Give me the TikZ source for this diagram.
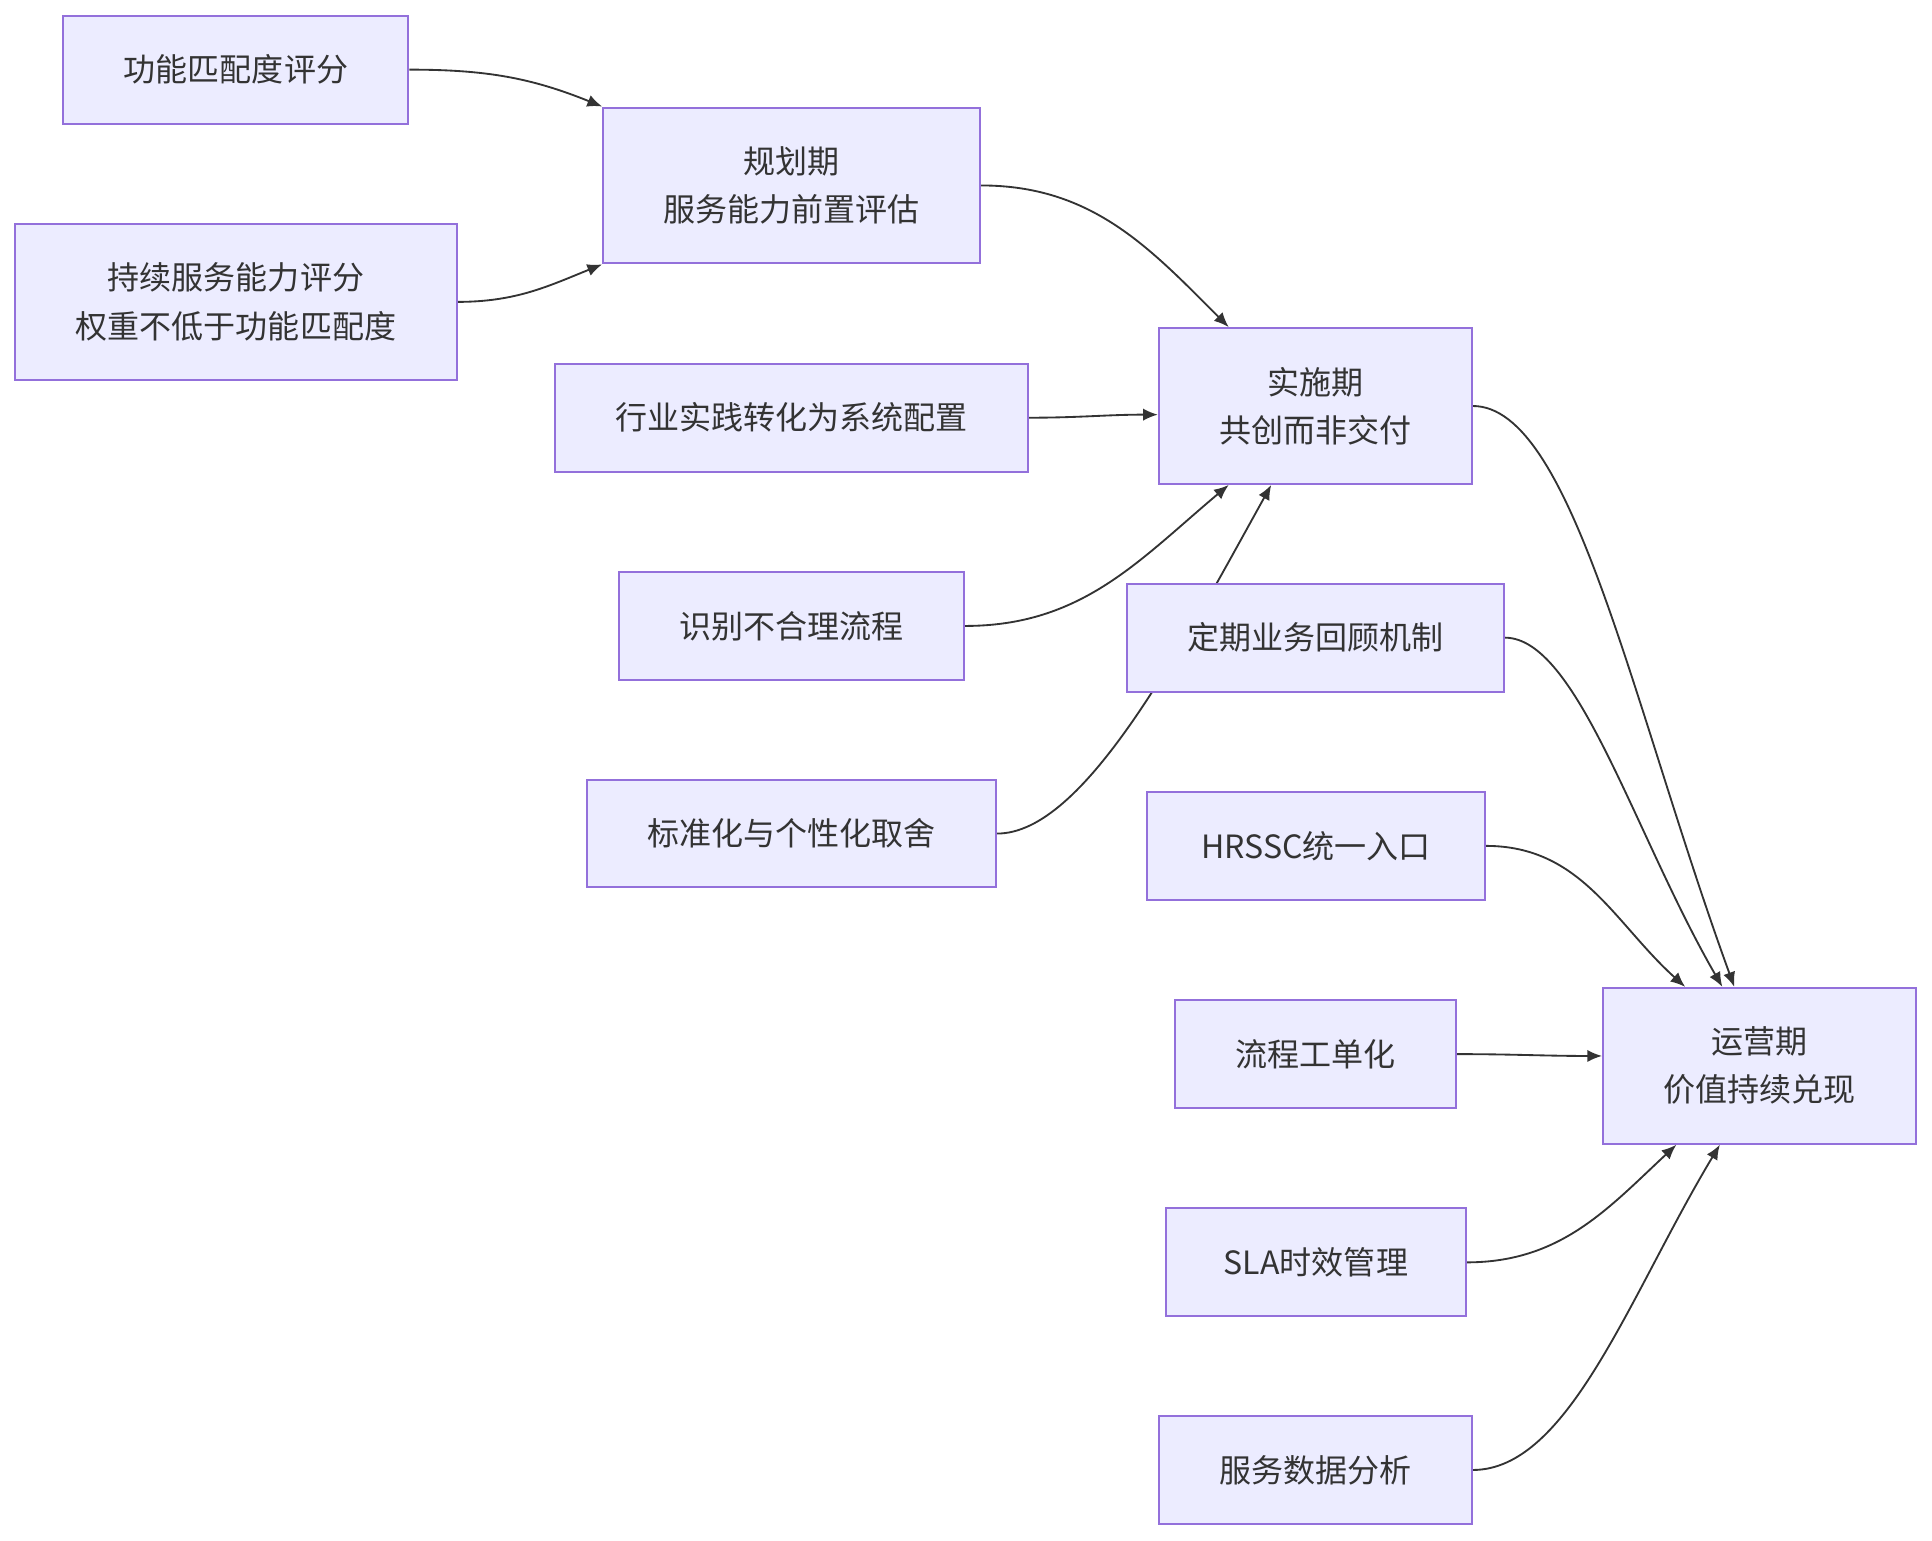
\documentclass[tikz,border=0pt]{standalone}
\usepackage{fontspec}
\setmainfont{Noto Sans CJK SC}
\usepackage{tikz}
\usetikzlibrary{arrows.meta,positioning,backgrounds,calc}

\definecolor{boxfill}{HTML}{ECECFF}
\definecolor{boxline}{HTML}{9370DB}
\definecolor{ink}{HTML}{333333}

\begin{document}
\begin{tikzpicture}[x=0.5pt, y=0.5pt,
    font=\fontsize{13pt}{19.5pt}\selectfont, >={Latex[length=6pt,width=5pt]},
    box/.style={draw=boxline, line width=0.8pt, fill=boxfill, text=ink,
      align=center, inner xsep=24.5pt, inner ysep=0pt, minimum height=43.75pt},
    phase/.style={box, minimum height=63.25pt},
    link/.style={draw=ink, line width=0.75pt, ->}]
  \useasboundingbox (0,0) rectangle (1568,-1250);

  % planning
  \node[box]   (fit)   at (191.5,-56.5)  {功能匹配度评分};
  \node[box, minimum height=63.25pt] (svc) at (191.5,-245) {持续服务能力评分\\权重不低于功能匹配度};
  \node[phase] (plan)  at (642.5,-150.5) {规划期\\服务能力前置评估};

  % implementation
  \node[box]   (cfg)   at (642.5,-339)   {行业实践转化为系统配置};
  \node[box]   (flaw)  at (642.5,-508)   {识别不合理流程};
  \node[box]   (trade) at (642.5,-676.5) {标准化与个性化取舍};
  \node[phase] (impl)  at (1067.5,-329.5) {实施期\\共创而非交付};

  % operation
  \node[box]   (review) at (1067.5,-517.5) {定期业务回顾机制};
  \node[box, inner xsep=22pt] (entry) at (1068,-686.5) {HRSSC统一入口};
  \node[box]   (ticket) at (1067.5,-855.5) {流程工单化};
  \node[box, inner xsep=23.5pt] (sla) at (1068,-1024.5) {SLA时效管理};
  \node[box]   (data)   at (1067.5,-1193)  {服务数据分析};
  \node[phase] (ops)    at (1428,-865)     {运营期\\价值持续兑现};

  \begin{scope}[on background layer]
    \draw[link] (fit.east) to[out=0, in=158] (plan.north west);
    \draw[link] (svc.east) to[out=0, in=202] (plan.south west);
    \draw[link] (plan.east) to[out=0, in=135] ($(impl.north west)!0.225!(impl.north east)$);
    \draw[link] (cfg.east) to[out=0, in=180] ($(impl.west)+(0,-7)$);
    \draw[link] (flaw.east) to[out=0, in=220] ($(impl.south west)!0.225!(impl.south east)$);
    \draw[link] (trade.east) to[out=0, in=241, out looseness=0.5, in looseness=1.1] ($(impl.south west)!0.36!(impl.south east)$);
    \draw[link] (impl.east) to[out=0, in=110, out looseness=0.4, in looseness=1.2] ($(ops.north west)!0.42!(ops.north east)$);
    \draw[link] (review.east) to[out=0, in=120, out looseness=0.45, in looseness=1.1] ($(ops.north west)!0.382!(ops.north east)$);
    \draw[link] (entry.east) to[out=0, in=138] ($(ops.north west)!0.264!(ops.north east)$);
    \draw[link] (ticket.east) to[out=0, in=180] ($(ops.west)+(0,8)$);
    \draw[link] (sla.east) to[out=0, in=223] ($(ops.south west)!0.236!(ops.south east)$);
    \draw[link] (data.east) to[out=0, in=239, out looseness=0.6, in looseness=1.1] ($(ops.south west)!0.374!(ops.south east)$);
  \end{scope}
\end{tikzpicture}
\end{document}
